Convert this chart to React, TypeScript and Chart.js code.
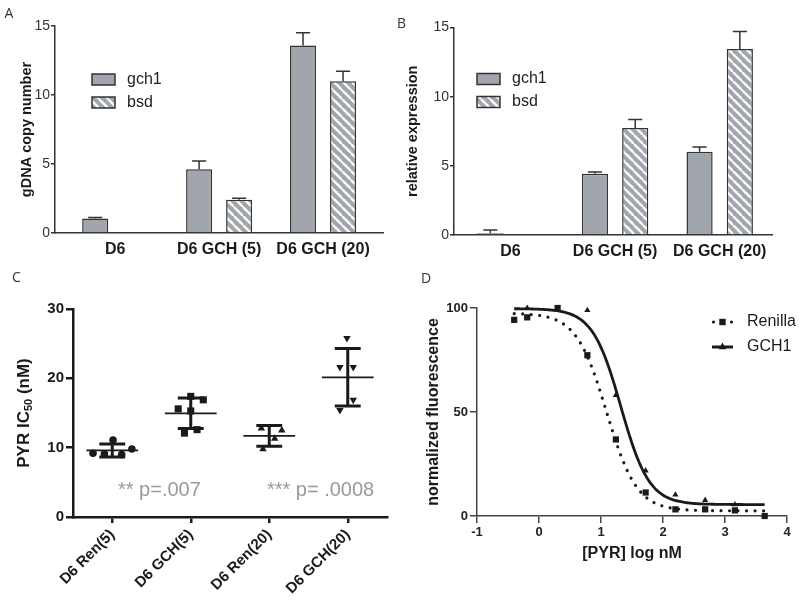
import React, { useEffect, useRef } from 'react';
import { Chart, registerables } from 'chart.js';

Chart.register(...registerables);

const FONT = "'Liberation Sans', Arial, Helvetica, sans-serif";
Chart.defaults.font.family = FONT;
Chart.defaults.color = '#222';

const GRAY = '#a1a5ac';
const INK = '#1a1a1a';

// ---------- Panels A & B (bar charts) ----------
const groupLabels = ['D6', 'D6 GCH (5)', 'D6 GCH (20)'];
const seriesNames = ['gch1', 'bsd'];
const barTicks = [0, 5, 10, 15];
const copyGch1 = [1.05, 4.62, 13.58];
const copyGch1Err = [0.08, 0.6, 0.93];
const copyBsd = [null, 2.41, 11.0];
const copyBsdErr = [null, 0.1, 0.72];
const exprGch1 = [0.12, 4.42, 6.02];
const exprGch1Err = [0.24, 0.14, 0.34];
const exprBsd = [null, 7.73, 13.44];
const exprBsdErr = [null, 0.62, 1.27];

// ---------- Panel C (scatter with mean ± SD) ----------
const icLabels = ['D6 Ren(5)', 'D6 GCH(5)', 'D6 Ren(20)', 'D6 GCH(20)'];
const icTicks = [0, 10, 20, 30];
const icRen5 = [11.1, 9.2, 9.1, 9.0, 9.8];
const icGch5 = [17.4, 16.9, 15.6, 15.3, 12.6, 12.1];
const icRen20 = [12.8, 12.5, 11.3, 9.8];
const icGch20 = [25.8, 21.6, 21.6, 16.9, 15.4];
const icMean = [9.6, 14.95, 11.7, 20.15];
const icSD = [0.93, 2.2, 1.5, 4.15];
const pLabels = ['** p=.007', '*** p= .0008'];

// horizontal jitter of the dots inside each column (layout only)
const icJitter = [
  [0.01, -0.245, -0.1, 0.12, 0.25],
  [0.0, 0.16, -0.16, 0.0, 0.08, -0.08],
  [-0.1, 0.16, 0.07, -0.08],
  [-0.01, -0.1, 0.07, 0.07, -0.1],
];

// ---------- Panel D (dose response) ----------
const concRen = [-0.4, -0.19, 0.3, 0.78, 1.24, 1.72, 2.2, 2.68, 3.16, 3.64];
const fluorRen = [94.3, 95.5, 100, 77.3, 36.8, 11.3, 3.2, 3.2, 2.7, 0];
const concGch = [-0.19, 0.3, 0.78, 1.24, 1.72, 2.2, 2.68, 3.16];
const fluorGch = [100, 99.5, 98.9, 58.1, 21.8, 10.2, 7.6, 5.5];
// four-parameter logistic fits
const fitRen = { top: 97.5, bottom: 2.5, logIC50: 1.09, hill: 1.78 };
const fitGch = { top: 99.7, bottom: 5.5, logIC50: 1.32, hill: 1.9 };
const fitRange = [-0.4, 3.64];
const doseNames = ['Renilla', 'GCH1'];

function fitCurve(f: any) {
  const pts: any[] = [];
  const n = 200;
  for (let i = 0; i <= n; i++) {
    const x = fitRange[0] + ((fitRange[1] - fitRange[0]) * i) / n;
    pts.push({ x, y: f.bottom + (f.top - f.bottom) / (1 + Math.pow(10, (x - f.logIC50) * f.hill)) });
  }
  return pts;
}

function makeHatch() {
  const c = document.createElement('canvas');
  c.width = 9;
  c.height = 9;
  const g = c.getContext('2d')!;
  g.fillStyle = GRAY;
  g.fillRect(0, 0, 9, 9);
  g.strokeStyle = '#ffffff';
  g.lineWidth = 2.3;
  for (const k of [-9, 0, 9]) {
    g.beginPath();
    g.moveTo(k, 0);
    g.lineTo(k + 9, 9);
    g.stroke();
  }
  return g.createPattern(c, 'repeat');
}

const barExtras = {
  id: 'barExtras',
  afterDatasetsDraw(chart: any, _a: any, o: any) {
    const ctx = chart.ctx;
    const ys = chart.scales.y;
    ctx.save();
    ctx.strokeStyle = '#333';
    ctx.lineWidth = 1.5;
    o.values.forEach((vals: any[], di: number) => {
      const meta = chart.getDatasetMeta(di);
      vals.forEach((v: any, i: number) => {
        const e = o.errors[di][i];
        if (v == null || e == null) return;
        const el = meta.data[i];
        const x = el.x;
        const y0 = ys.getPixelForValue(v);
        const y1 = ys.getPixelForValue(v + e);
        const hw = el.width * 0.27;
        ctx.beginPath();
        ctx.moveTo(x, y0);
        ctx.lineTo(x, y1);
        ctx.moveTo(x - hw, y1);
        ctx.lineTo(x + hw, y1);
        ctx.stroke();
      });
    });
    const L = o.legend;
    chart.data.datasets.forEach((ds: any, i: number) => {
      const by = L.y + i * L.gap;
      ctx.fillStyle = ds.backgroundColor;
      ctx.fillRect(L.x, by - 5.5, 23, 11);
      ctx.lineWidth = 1.5;
      ctx.strokeStyle = '#333';
      ctx.strokeRect(L.x, by - 5.5, 23, 11);
      ctx.fillStyle = '#222';
      ctx.font = `16px ${FONT}`;
      ctx.textBaseline = 'middle';
      ctx.textAlign = 'left';
      ctx.fillText(ds.label, L.x + 35, by);
    });
    ctx.restore();
  },
};

function makeBarChart(canvas: HTMLCanvasElement, cfg: any) {
  const { W, H, area, xRange, values, errors, yTitle, titlePad, legend } = cfg;
  const fills = [GRAY, makeHatch()];
  return new Chart(canvas, {
    type: 'bar',
    data: {
      datasets: values.map((vals: any[], di: number) => ({
        label: seriesNames[di],
        data: vals.map((y: any, i: number) => ({ x: i, y })),
        backgroundColor: fills[di],
        borderColor: '#333',
        borderWidth: 1.5,
        categoryPercentage: 0.77,
        barPercentage: 0.65,
      })),
    },
    options: {
      responsive: false,
      animation: false,
      layout: { padding: { left: 0, top: area.top, right: W - area.right, bottom: 0 } },
      plugins: {
        legend: { display: false },
        tooltip: { enabled: false },
        barExtras: { values, errors, legend },
      } as any,
      scales: {
        x: {
          type: 'linear',
          min: xRange[0],
          max: xRange[1],
          offset: false,
          afterBuildTicks: (s: any) => {
            s.ticks = groupLabels.map((_, i) => ({ value: i }));
          },
          afterFit: (s: any) => {
            s.height = H - area.bottom;
          },
          ticks: {
            callback: (v: any) => groupLabels[v],
            font: { size: 16, weight: 'bold' },
            color: '#1a1a1a',
            padding: 7,
            autoSkip: false,
            maxRotation: 0,
          },
          grid: { display: true, drawOnChartArea: false, drawTicks: false },
          border: { color: '#333', width: 1.5 },
        },
        y: {
          min: 0,
          max: 15,
          afterBuildTicks: (s: any) => {
            s.ticks = barTicks.map((v) => ({ value: v }));
          },
          afterFit: (s: any) => {
            s.width = area.left;
          },
          ticks: { font: { size: 14 }, color: '#333', padding: 1 },
          grid: { drawOnChartArea: false, tickLength: 4, color: '#333', tickColor: '#333', lineWidth: 1.5 },
          border: { color: '#333', width: 1.5 },
          title: {
            display: true,
            text: yTitle,
            font: { size: 14.5, weight: 'bold' },
            color: '#1a1a1a',
            padding: { top: titlePad, bottom: 0 },
          },
        },
      } as any,
    } as any,
    plugins: [barExtras],
  } as any);
}

const meanSD = {
  id: 'meanSD',
  afterDatasetsDraw(chart: any, _a: any, o: any) {
    const { ctx } = chart;
    const xs = chart.scales.x;
    const ys = chart.scales.y;
    ctx.save();
    ctx.strokeStyle = INK;
    ctx.lineCap = 'butt';
    o.means.forEach((m: number, i: number) => {
      const s = o.sds[i];
      const px = xs.getPixelForValue(i);
      const hw = xs.getPixelForValue(i + o.meanHalf) - px;
      const cw = xs.getPixelForValue(i + o.capHalf) - px;
      const ym = ys.getPixelForValue(m);
      const yt = ys.getPixelForValue(m + s);
      const yb = ys.getPixelForValue(m - s);
      ctx.lineWidth = 1.8;
      ctx.beginPath();
      ctx.moveTo(px - hw, ym);
      ctx.lineTo(px + hw, ym);
      ctx.stroke();
      ctx.lineWidth = 3;
      ctx.beginPath();
      ctx.moveTo(px, yt);
      ctx.lineTo(px, yb);
      ctx.moveTo(px - cw, yt);
      ctx.lineTo(px + cw, yt);
      ctx.moveTo(px - cw, yb);
      ctx.lineTo(px + cw, yb);
      ctx.stroke();
    });
    ctx.restore();
  },
};

const icExtras = {
  id: 'icExtras',
  afterDraw(chart: any, _a: any, o: any) {
    const { ctx, chartArea } = chart;
    const xs = chart.scales.x;
    const ys = chart.scales.y;
    ctx.save();
    // p-value annotations
    ctx.font = `20px ${FONT}`;
    ctx.fillStyle = '#9a9a9a';
    ctx.textAlign = 'left';
    ctx.textBaseline = 'alphabetic';
    o.notes.forEach((n: any) => {
      ctx.fillText(n.text, xs.getPixelForValue(n.x), ys.getPixelForValue(n.y));
    });
    // y axis title with subscript
    const cy = (chartArea.top + chartArea.bottom) / 2;
    ctx.translate(o.titleX, cy);
    ctx.rotate(-Math.PI / 2);
    ctx.fillStyle = INK;
    ctx.textBaseline = 'middle';
    const parts = [
      { t: 'PYR IC', f: `bold 17px ${FONT}`, dy: 0 },
      { t: '50', f: `bold 11px ${FONT}`, dy: 4.5 },
      { t: ' (nM)', f: `bold 17px ${FONT}`, dy: 0 },
    ];
    let total = 0;
    parts.forEach((p) => {
      ctx.font = p.f;
      total += ctx.measureText(p.t).width;
    });
    let x = -total / 2;
    parts.forEach((p) => {
      ctx.font = p.f;
      ctx.fillText(p.t, x, p.dy);
      x += ctx.measureText(p.t).width;
    });
    ctx.restore();
  },
};

function makeICChart(canvas: HTMLCanvasElement) {
  const W = 400, H = 332;
  const area = { left: 73, top: 39, right: 387, bottom: 247 };
  const series = [icRen5, icGch5, icRen20, icGch20];
  const markers = [
    { style: 'circle', r: 3.8, rot: 0 },
    { style: 'rect', r: 5, rot: 0 },
    { style: 'triangle', r: 4.3, rot: 0 },
    { style: 'triangle', r: 4.3, rot: 180 },
  ];
  return new Chart(canvas, {
    type: 'scatter',
    data: {
      datasets: series.map((vals, gi) => ({
        label: icLabels[gi],
        data: vals.map((y, j) => ({ x: gi + icJitter[gi][j], y })),
        pointStyle: markers[gi].style,
        pointRadius: markers[gi].r,
        pointRotation: markers[gi].rot,
        backgroundColor: INK,
        borderColor: INK,
        borderWidth: 0,
        clip: false,
      })),
    },
    options: {
      responsive: false,
      animation: false,
      layout: { padding: { left: 0, top: area.top, right: W - area.right, bottom: 0 } },
      plugins: {
        legend: { display: false },
        tooltip: { enabled: false },
        meanSD: { means: icMean, sds: icSD, meanHalf: 0.33, capHalf: 0.165 },
        icExtras: {
          titleX: 24,
          notes: [
            { text: pLabels[0], x: 0.073, y: 3.0 },
            { text: pLabels[1], x: 1.97, y: 3.0 },
          ],
        },
      } as any,
      scales: {
        x: {
          type: 'linear',
          min: -0.5,
          max: 3.5,
          afterBuildTicks: (s: any) => {
            s.ticks = icLabels.map((_, i) => ({ value: i }));
          },
          afterFit: (s: any) => {
            s.height = H - area.bottom;
          },
          ticks: {
            callback: (v: any) => icLabels[v],
            minRotation: 45,
            maxRotation: 45,
            font: { size: 15, weight: 'bold' },
            color: INK,
            padding: 3,
            autoSkip: false,
          },
          grid: { drawOnChartArea: false, tickLength: 6, lineWidth: 2.5, color: INK, tickColor: INK },
          border: { color: INK, width: 2.5 },
        },
        y: {
          min: 0,
          max: 30,
          afterBuildTicks: (s: any) => {
            s.ticks = icTicks.map((v) => ({ value: v }));
          },
          afterFit: (s: any) => {
            s.width = area.left;
          },
          ticks: { font: { size: 15, weight: 'bold' }, color: INK, padding: 2 },
          grid: { drawOnChartArea: false, tickLength: 7, lineWidth: 2.5, color: INK, tickColor: INK },
          border: { color: INK, width: 2.5 },
        },
      } as any,
    } as any,
    plugins: [meanSD, icExtras],
  } as any);
}

const doseLegend = {
  id: 'doseLegend',
  afterDraw(chart: any, _a: any, o: any) {
    const { ctx } = chart;
    ctx.save();
    ctx.fillStyle = INK;
    ctx.strokeStyle = INK;
    // Renilla: dotted with square
    let y = o.y0;
    ctx.beginPath();
    ctx.arc(o.x0 + 1.5, y, 1.6, 0, Math.PI * 2);
    ctx.arc(o.x1 - 1.5, y, 1.6, 0, Math.PI * 2);
    ctx.fill();
    const cx = (o.x0 + o.x1) / 2;
    ctx.fillRect(cx - 3.2, y - 3.2, 6.4, 6.4);
    ctx.font = `16px ${FONT}`;
    ctx.textBaseline = 'middle';
    ctx.textAlign = 'left';
    ctx.fillText(doseNames[0], o.tx, y);
    // GCH1: solid with triangle
    y = o.y0 + o.gap;
    ctx.lineWidth = 3;
    ctx.beginPath();
    ctx.moveTo(o.x0, y);
    ctx.lineTo(o.x1, y);
    ctx.stroke();
    ctx.beginPath();
    ctx.moveTo(cx, y - 4.5);
    ctx.lineTo(cx + 3.8, y + 2.3);
    ctx.lineTo(cx - 3.8, y + 2.3);
    ctx.closePath();
    ctx.fill();
    ctx.fillText(doseNames[1], o.tx, y);
    ctx.restore();
  },
};

function makeDoseChart(canvas: HTMLCanvasElement) {
  const W = 400, H = 332;
  const area = { left: 77, top: 38, right: 387, bottom: 246 };
  return new Chart(canvas, {
    type: 'scatter',
    data: {
      datasets: [
        {
          label: doseNames[0] + ' data',
          data: concRen.map((x, i) => ({ x, y: fluorRen[i] })),
          pointStyle: 'rect',
          pointRadius: 4.4,
          backgroundColor: INK,
          borderWidth: 0,
          clip: false,
        },
        {
          label: doseNames[1] + ' data',
          data: concGch.map((x, i) => ({ x, y: fluorGch[i] })),
          pointStyle: 'triangle',
          pointRadius: 3.6,
          backgroundColor: INK,
          borderWidth: 0,
          clip: false,
        },
        {
          label: doseNames[0],
          data: fitCurve(fitRen),
          showLine: true,
          pointRadius: 0,
          borderColor: INK,
          borderWidth: 3.2,
          borderDash: [0.01, 8.5],
          borderCapStyle: 'round',
          clip: false,
        },
        {
          label: doseNames[1],
          data: fitCurve(fitGch),
          showLine: true,
          pointRadius: 0,
          borderColor: INK,
          borderWidth: 2.8,
          clip: false,
        },
      ],
    },
    options: {
      responsive: false,
      animation: false,
      layout: { padding: { left: 0, top: area.top, right: W - area.right, bottom: 0 } },
      plugins: {
        legend: { display: false },
        tooltip: { enabled: false },
        doseLegend: { x0: 312, x1: 333, tx: 347, y0: 52, gap: 25 },
      } as any,
      scales: {
        x: {
          type: 'linear',
          min: -1,
          max: 4,
          ticks: { stepSize: 1, font: { size: 13, weight: 'bold' }, color: '#222', padding: 2 },
          afterFit: (s: any) => {
            s.height = H - area.bottom;
          },
          grid: { drawOnChartArea: false, tickLength: 7, lineWidth: 1.5, color: '#444', tickColor: '#444' },
          border: { color: '#444', width: 1.5 },
          title: {
            display: true,
            text: '[PYR] log nM',
            font: { size: 16, weight: 'bold' },
            color: INK,
            padding: { top: 0, bottom: 39 },
          },
        },
        y: {
          min: 0,
          max: 100,
          ticks: { stepSize: 50, font: { size: 13, weight: 'bold' }, color: '#222', padding: 2 },
          afterFit: (s: any) => {
            s.width = area.left;
          },
          grid: { drawOnChartArea: false, tickLength: 7, lineWidth: 1.5, color: '#444', tickColor: '#444' },
          border: { color: '#444', width: 1.5 },
          title: {
            display: true,
            text: 'normalized fluorescence',
            font: { size: 16, weight: 'bold' },
            color: INK,
            padding: { top: 23.5, bottom: 0 },
          },
        },
      } as any,
    } as any,
    plugins: [doseLegend],
  } as any);
}

function Panel({ left, top, width, height, make }: any) {
  const ref = useRef<HTMLCanvasElement>(null);
  useEffect(() => {
    const chart = make(ref.current);
    return () => chart.destroy();
  }, []);
  return (
    <canvas
      ref={ref}
      width={width}
      height={height}
      style={{ position: 'absolute', left, top, width, height }}
    />
  );
}

const letterStyle: any = {
  position: 'absolute',
  font: '14px "Open Sans", sans-serif',
  lineHeight: '14px',
  color: '#333',
};

export default function App() {
  return (
    <div
      style={{
        position: 'fixed',
        left: 0,
        top: 0,
        width: 800,
        height: 602,
        background: '#fff',
        overflow: 'hidden',
      }}
    >
      <Panel
        left={0}
        top={0}
        width={400}
        height={270}
        make={(c: HTMLCanvasElement) =>
          makeBarChart(c, {
            W: 400,
            H: 270,
            area: { left: 55, top: 26, right: 383, bottom: 233 },
            xRange: [-0.579, 2.577],
            values: [copyGch1, copyBsd],
            errors: [copyGch1Err, copyBsdErr],
            yTitle: 'gDNA copy number',
            titlePad: 18.3,
            legend: { x: 92, y: 79.5, gap: 23 },
          })
        }
      />
      <Panel
        left={400}
        top={0}
        width={400}
        height={270}
        make={(c: HTMLCanvasElement) =>
          makeBarChart(c, {
            W: 400,
            H: 270,
            area: { left: 54, top: 27.5, right: 372, bottom: 235 },
            xRange: [-0.54, 2.5],
            values: [exprGch1, exprBsd],
            errors: [exprGch1Err, exprBsdErr],
            yTitle: 'relative expression',
            titlePad: 4.3,
            legend: { x: 77, y: 79, gap: 23 },
          })
        }
      />
      <Panel left={0} top={270} width={400} height={332} make={makeICChart} />
      <Panel left={400} top={270} width={400} height={332} make={makeDoseChart} />
      <div style={{ ...letterStyle, left: 4.5, top: 5.5 }}>A</div>
      <div style={{ ...letterStyle, left: 397, top: 15.5 }}>B</div>
      <div style={{ ...letterStyle, left: 12, top: 269.5 }}>C</div>
      <div style={{ ...letterStyle, left: 421, top: 270.5 }}>D</div>
    </div>
  );
}
